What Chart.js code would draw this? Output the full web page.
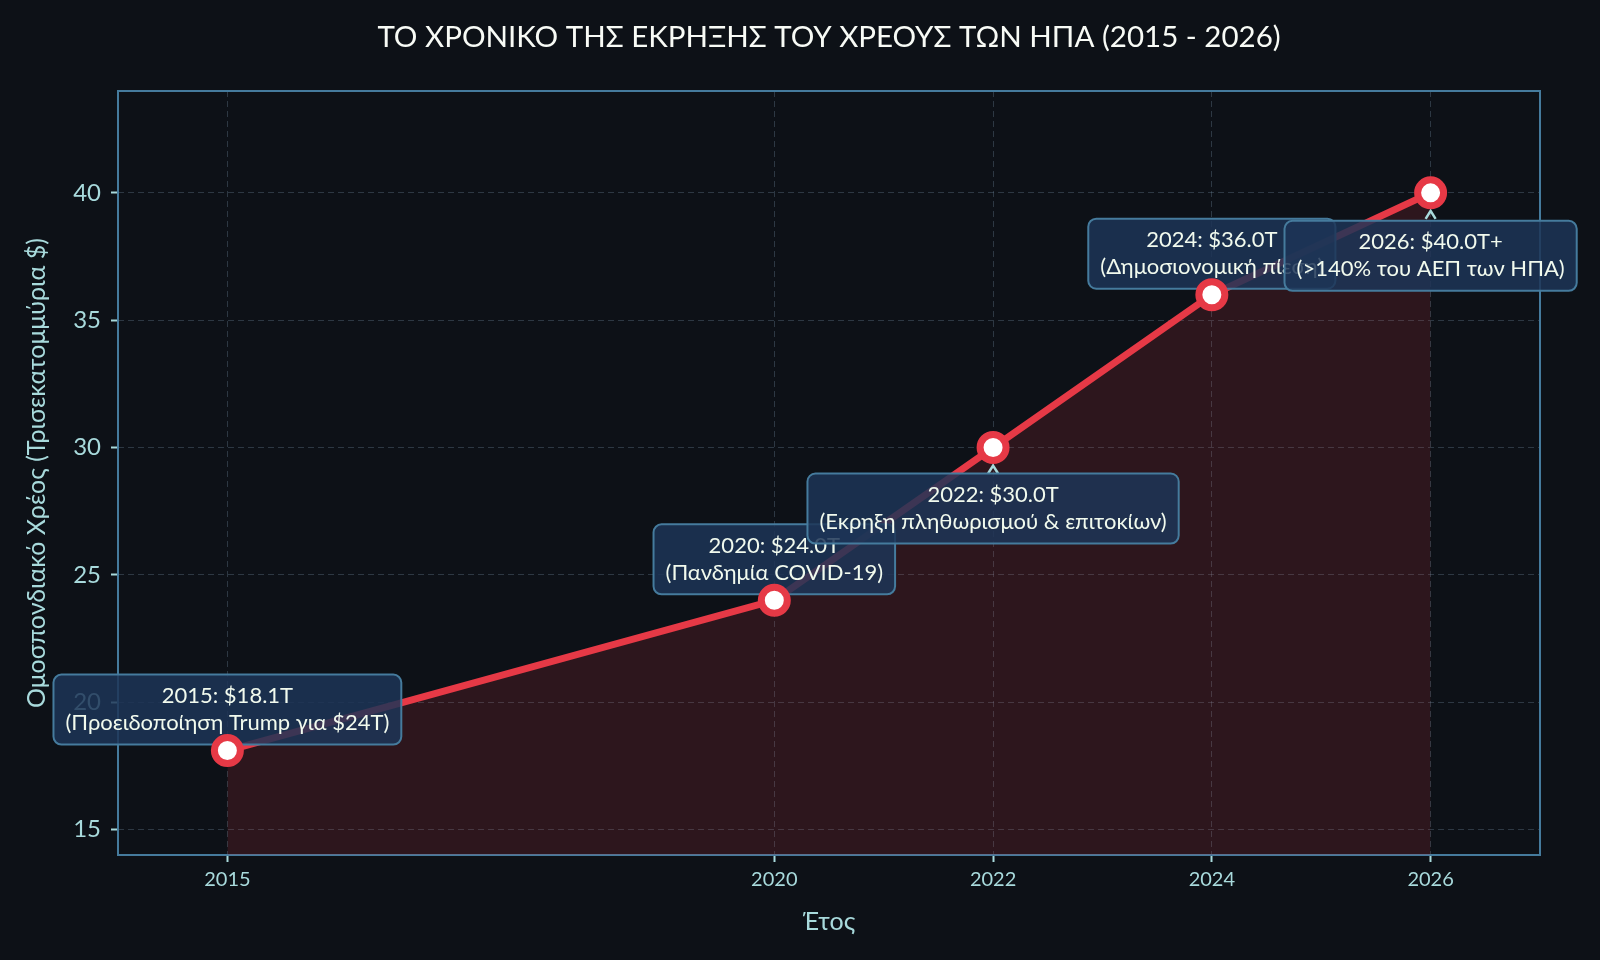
<!DOCTYPE html>
<html>
<head>
<meta charset="utf-8">
<script src="https://cdn.jsdelivr.net/npm/chart.js@4.4.0/dist/chart.umd.min.js"></script>
<style>
  html, body { margin: 0; padding: 0; background: #0d1117; }
  #debtChart { display: block; }
</style>
</head>
<body>
<canvas id="debtChart" width="1600" height="960"></canvas>
<script>
// Values
const years = [2015, 2020, 2022, 2024, 2026];
const debtTrillions = [18.1, 24.0, 30.0, 36.0, 40.0];
const noteTitles = ['2015: $18.1T', '2020: $24.0T', '2022: $30.0T', '2024: $36.0T', '2026: $40.0T+'];
const noteTexts = [
    '(Προειδοποίηση Trump για $24T)',
    '(Πανδημία COVID-19)',
    '(Εκρηξη πληθωρισμού & επιτοκίων)',
    '(Δημοσιονομική πίεση)',
    '(>140% του ΑΕΠ των ΗΠΑ)'
];
const xTicks = [2015, 2020, 2022, 2024, 2026];
const yTicks = [15, 20, 25, 30, 35, 40];

const FONT = 'Lato, "Noto Sans", sans-serif';
const TICK_COLOR = '#a8dadc';
const GRID_COLOR = 'rgba(120, 150, 170, 0.3)';

// Frame round the plot area (Chart.js only draws left/bottom borders)
const framePlugin = {
    id: 'frame',
    beforeDatasetsDraw(chart) {
        const { ctx, chartArea: a } = chart;
        ctx.save();
        ctx.strokeStyle = '#457b9d';
        ctx.lineWidth = 2;
        ctx.strokeRect(a.left, a.top, a.right - a.left, a.bottom - a.top);
        ctx.restore();
    }
};

// Title centred over the plot area
const titlePlugin = {
    id: 'plotTitle',
    afterDraw(chart, args, opts) {
        const { ctx, chartArea: a } = chart;
        ctx.save();
        ctx.font = `29.5px ${FONT}`;
        ctx.fillStyle = '#f8fbf6';
        ctx.textAlign = 'center';
        ctx.textBaseline = 'middle';
        ctx.fillText(opts.text, (a.left + a.right) / 2, 37);
        ctx.restore();
    }
};

// Annotation boxes, drawn after the line but before the markers
const notesPlugin = {
    id: 'notes',
    afterDatasetDraw(chart, args, opts) {
        if (args.index !== 0) return;
        const { ctx, scales: { x, y } } = chart;
        ctx.save();
        ctx.font = `22px ${FONT}`;
        years.forEach((yr, i) => {
            const px = x.getPixelForValue(yr);
            const py = y.getPixelForValue(debtTrillions[i]);
            const cy = py + opts.offsets[i];
            const lines = [noteTitles[i], noteTexts[i]];
            const w = Math.max(...lines.map(l => ctx.measureText(l).width)) + opts.padX * 2;
            const h = lines.length * opts.lineHeight + opts.padY * 2;
            const bx = px - w / 2, by = cy - h / 2;

            // little arrow head when the box sits under its point
            if (opts.offsets[i] > 0) {
                const tip = py + 18;
                ctx.beginPath();
                ctx.moveTo(px - 5, tip + 8);
                ctx.lineTo(px, tip);
                ctx.lineTo(px + 5, tip + 8);
                ctx.strokeStyle = TICK_COLOR;
                ctx.lineWidth = 2.5;
                ctx.stroke();
            }

            ctx.beginPath();
            ctx.roundRect(bx, by, w, h, 8);
            ctx.fillStyle = 'rgba(29, 53, 87, 0.85)';
            ctx.fill();
            ctx.strokeStyle = '#457b9d';
            ctx.lineWidth = 2;
            ctx.stroke();

            ctx.fillStyle = '#f1faee';
            ctx.textAlign = 'center';
            ctx.textBaseline = 'middle';
            lines.forEach((l, j) => {
                ctx.fillText(l, px, by + opts.padY + opts.lineHeight * (j + 0.5));
            });
        });
        ctx.restore();
    }
};

const ctx = document.getElementById('debtChart').getContext('2d');
const chart = new Chart(ctx, {
    type: 'line',
    data: {
        datasets: [
            {
                // line + shaded area
                data: years.map((yr, i) => ({ x: yr, y: debtTrillions[i] })),
                borderColor: '#e63946',
                borderWidth: 7,
                backgroundColor: 'rgba(230, 57, 70, 0.15)',
                fill: 'start',
                pointRadius: 0,
                tension: 0,
                order: 2
            },
            {
                // markers on top of the annotation boxes
                data: years.map((yr, i) => ({ x: yr, y: debtTrillions[i] })),
                showLine: false,
                pointRadius: 13,
                pointBorderWidth: 7,
                pointBackgroundColor: '#ffffff',
                pointBorderColor: '#e63946',
                clip: false,
                order: 1
            }
        ]
    },
    options: {
        responsive: false,
        animation: false,
        devicePixelRatio: 1,
        layout: { padding: { left: 0, top: 91, right: 60, bottom: 0 } },
        plugins: {
            legend: { display: false },
            tooltip: { enabled: false },
            plotTitle: { text: 'ΤΟ ΧΡΟΝΙΚΟ ΤΗΣ ΕΚΡΗΞΗΣ ΤΟΥ ΧΡΕΟΥΣ ΤΩΝ ΗΠΑ (2015 - 2026)' },
            notes: { offsets: [-41, -41, 61, -41, 63], padX: 12, padY: 8, lineHeight: 27 }
        },
        scales: {
            x: {
                type: 'linear',
                min: 2014,
                max: 2027,
                afterBuildTicks: s => { s.ticks = xTicks.map(v => ({ value: v })); },
                afterFit: s => { s.height = 105; },
                ticks: {
                    color: TICK_COLOR,
                    font: { family: FONT, size: 20 },
                    padding: 6,
                    callback: v => String(v)
                },
                grid: { color: GRID_COLOR, tickColor: TICK_COLOR, tickLength: 7, tickWidth: 2 },
                border: { display: false, dash: [6, 4] },
                title: {
                    display: true,
                    text: 'Έτος',
                    color: TICK_COLOR,
                    font: { family: FONT, size: 25 },
                    padding: { top: 0, bottom: 23 }
                }
            },
            y: {
                min: 14,
                max: 44,
                afterBuildTicks: s => { s.ticks = yTicks.map(v => ({ value: v })); },
                afterFit: s => { s.width = 118; },
                ticks: {
                    color: TICK_COLOR,
                    font: { family: FONT, size: 24 },
                    padding: 10
                },
                grid: { color: GRID_COLOR, tickColor: TICK_COLOR, tickLength: 7, tickWidth: 2 },
                border: { display: false, dash: [6, 4] },
                title: {
                    display: true,
                    text: 'Ομοσπονδιακό Χρέος (Τρισεκατομμύρια $)',
                    color: TICK_COLOR,
                    font: { family: FONT, size: 25 },
                    padding: { top: 22, bottom: 0 }
                }
            }
        }
    },
    plugins: [framePlugin, titlePlugin, notesPlugin]
});
</script>
</body>
</html>
